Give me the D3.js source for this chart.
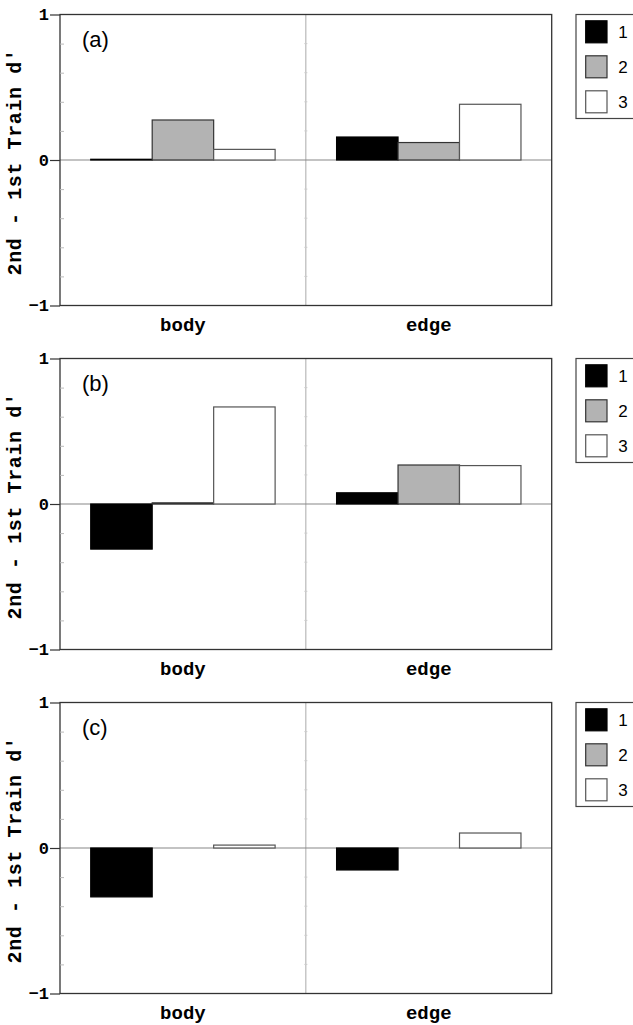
<!DOCTYPE html>
<html>
<head>
<meta charset="utf-8">
<script src="https://cdn.jsdelivr.net/npm/d3@7"></script>
<style>
  html, body { margin: 0; padding: 0; background: #fff; overflow: hidden; }
  svg { display: block; }
  .mono { font-family: "Courier New", Courier, "Liberation Mono", "Nimbus Mono PS", FreeMono, "DejaVu Sans Mono", "Noto Sans Mono", monospace; font-weight: bold; }
</style>
</head>
<body>
<svg></svg>
<script>
const WIDTH = 633;
const HEIGHT = 1025;

// values per panel: [category][series]
const categories = ['body', 'edge'];
const series = ['1', '2', '3'];
const panelLabels = ['(a)', '(b)', '(c)'];
const valuesA = [[0.005, 0.275, 0.073], [0.158, 0.12, 0.383]];
const valuesB = [[-0.31, 0.008, 0.667], [0.077, 0.268, 0.264]];
const valuesC = [[-0.336, null, 0.02], [-0.151, null, 0.103]];
const yTicks = [-1, 0, 1];
const yMinorTicks = [-0.8, -0.6, -0.4, -0.2, 0.2, 0.4, 0.6, 0.8];
const yLabel = "2nd - 1st Train d'";

const panels = [valuesA, valuesB, valuesC];

const LEFT = 60;
const RIGHT = 551.7;
const PANEL_TOP = 14.5;
const PANEL_STEP = 344;
const PANEL_H = 291;
const SANS = '"Liberation Sans", Arial, sans-serif';

const fills = { 1: '#000', 2: '#b3b3b3', 3: '#fff' };
const strokes = { 1: '#000', 2: '#333', 3: '#555' };

const svg = d3.select('svg').attr('width', WIDTH).attr('height', HEIGHT);

const x0 = d3.scaleBand().domain(categories).range([LEFT, RIGHT]).padding(0);
const x1 = d3
  .scaleBand()
  .domain(series)
  .range([0, x0.bandwidth()])
  .paddingInner(0)
  .paddingOuter(0.5);

// ---------- panels ----------

panels.forEach((values, i) => {
  const top = PANEL_TOP + i * PANEL_STEP;
  const y = d3.scaleLinear().domain([-1, 1]).range([top + PANEL_H, top]);
  const g = svg.append('g');

  // divider between groups
  g.append('line')
    .attr('x1', x0('edge'))
    .attr('x2', x0('edge'))
    .attr('y1', top)
    .attr('y2', top + PANEL_H)
    .attr('stroke', '#aaa')
    .attr('stroke-width', 1);

  // faint ticks on the divider
  g.selectAll('.mid-tick')
    .data(yMinorTicks)
    .join('line')
    .attr('x1', x0('edge') - 1.5)
    .attr('x2', x0('edge') + 1.5)
    .attr('y1', (d) => y(d))
    .attr('y2', (d) => y(d))
    .attr('stroke', '#ccc');

  // zero line
  g.append('line')
    .attr('x1', LEFT)
    .attr('x2', RIGHT)
    .attr('y1', y(0))
    .attr('y2', y(0))
    .attr('stroke', '#888')
    .attr('stroke-width', 1.2);

  // bars
  const rows = values.flatMap((vals, c) =>
    vals.map((v, s) => ({ cat: categories[c], ser: series[s], v }))
  ).filter((d) => d.v !== null);

  g.selectAll('.bar')
    .data(rows)
    .join('rect')
    .attr('x', (d) => x0(d.cat) + x1(d.ser))
    .attr('width', x1.bandwidth())
    .attr('y', (d) => y(Math.max(0, d.v)))
    .attr('height', (d) => Math.abs(y(d.v) - y(0)))
    .attr('fill', (d) => fills[d.ser])
    .attr('stroke', (d) => strokes[d.ser])
    .attr('stroke-width', 1.2);

  // frame
  g.append('rect')
    .attr('x', LEFT)
    .attr('y', top)
    .attr('width', RIGHT - LEFT)
    .attr('height', PANEL_H)
    .attr('fill', 'none')
    .attr('stroke', '#333')
    .attr('stroke-width', 1.3);

  // ---------- axes ----------

  g.append('g')
    .attr('transform', `translate(${LEFT},0)`)
    .call(d3.axisLeft(y).tickValues(yMinorTicks).tickSize(-4).tickFormat(''))
    .call((a) => a.select('.domain').remove())
    .call((a) => a.selectAll('line').attr('stroke', '#bbb'));

  g.append('g')
    .attr('transform', `translate(${LEFT},0)`)
    .attr('font-family', null)
    .call(d3.axisLeft(y).tickValues(yTicks).tickSize(10).tickPadding(1).tickFormat(d3.format('d')))
    .call((a) => a.select('.domain').remove())
    .call((a) => a.selectAll('line').attr('stroke', '#333').attr('stroke-width', 1.2))
    .call((a) =>
      a.selectAll('text')
        .attr('class', 'mono')
        .style('font-size', '17px')
        .attr('fill', '#000')
    );

  g.selectAll('.cat')
    .data(categories)
    .join('text')
    .attr('class', 'mono')
    .attr('x', (d) => x0(d) + x0.bandwidth() / 2)
    .attr('y', top + PANEL_H + 25)
    .attr('text-anchor', 'middle')
    .style('font-size', '19px')
    .text((d) => d);

  g.append('text')
    .attr('class', 'mono')
    .attr('transform', `translate(21,${top + PANEL_H / 2 + 2}) rotate(-90)`)
    .attr('text-anchor', 'middle')
    .style('font-size', '20px')
    .attr('letter-spacing', 0.6)
    .text(yLabel);

  g.append('text')
    .attr('x', LEFT + 22)
    .attr('y', top + 32)
    .attr('font-family', SANS)
    .attr('font-size', 22)
    .text(panelLabels[i]);

  // ---------- legend ----------

  const legend = g.append('g').attr('transform', `translate(576,${top})`);

  legend.append('rect')
    .attr('width', 80)
    .attr('height', 104)
    .attr('fill', '#fff')
    .attr('stroke', '#444')
    .attr('stroke-width', 1.2);

  const item = legend
    .selectAll('.item')
    .data(series)
    .join('g')
    .attr('transform', (d, k) => `translate(9.7,${6.3 + k * 35})`);

  item.append('rect')
    .attr('width', 21.3)
    .attr('height', 22)
    .attr('fill', (d) => fills[d])
    .attr('stroke', (d) => strokes[d])
    .attr('stroke-width', 1.2);

  item.append('text')
    .attr('x', 32.5)
    .attr('y', 17)
    .attr('font-family', SANS)
    .attr('font-size', 17)
    .text((d) => d);
});
</script>
</body>
</html>
